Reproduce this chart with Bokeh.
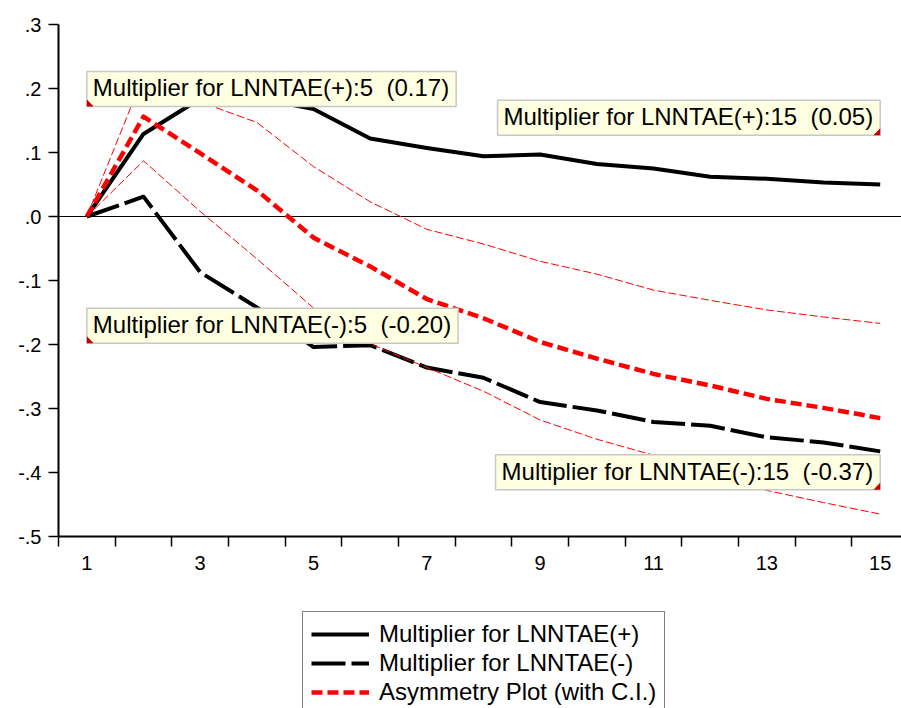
from bokeh.plotting import figure
from bokeh.layouts import column
from bokeh.models import (FixedTicker, CustomJSTickFormatter, Span, Label, Legend,
                          LegendItem, Range1d)
from bokeh.embed import file_html
from bokeh.resources import INLINE

# ---------------- data ----------------
periods = list(range(1, 16))
mult_pos = [0.0, 0.129, 0.184, 0.185, 0.168, 0.122, 0.107, 0.094, 0.097, 0.082,
            0.075, 0.062, 0.059, 0.053, 0.050]
mult_neg = [0.0, 0.031, -0.087, -0.142, -0.204, -0.201, -0.236, -0.252, -0.290, -0.303,
            -0.321, -0.327, -0.345, -0.353, -0.367]
asymmetry = [0.0, 0.156, 0.099, 0.041, -0.033, -0.078, -0.129, -0.159, -0.196, -0.222,
             -0.246, -0.264, -0.285, -0.299, -0.315]
ci_upper = [0.0, 0.220, 0.179, 0.147, 0.078, 0.023, -0.020, -0.043, -0.070, -0.090,
            -0.115, -0.131, -0.146, -0.157, -0.167]
ci_lower = [0.0, 0.087, 0.008, -0.066, -0.143, -0.199, -0.236, -0.273, -0.318, -0.348,
            -0.373, -0.398, -0.428, -0.447, -0.465]

x_label_ticks = [1, 3, 5, 7, 9, 11, 13, 15]
y_ticks = [-0.5, -0.4, -0.3, -0.2, -0.1, 0.0, 0.1, 0.2, 0.3]

legend_labels = ["Multiplier for LNNTAE(+)", "Multiplier for LNNTAE(-)",
                 "Asymmetry Plot (with C.I.)"]
annotation_texts = ["Multiplier for LNNTAE(+):5\u00a0 (0.17)",
                    "Multiplier for LNNTAE(+):15\u00a0 (0.05)",
                    "Multiplier for LNNTAE(-):5\u00a0 (-0.20)",
                    "Multiplier for LNNTAE(-):15\u00a0 (-0.37)"]

FONT = "Liberation Sans"

# line styles (shared by the chart and the legend)
style_pos = dict(line_color="black", line_width=4, line_join="round")
style_neg = dict(line_color="black", line_width=4, line_dash="34 6", line_join="round")
style_ci = dict(line_color="#FF0000", line_width=1, line_dash="8 3")
style_asym = dict(line_color="#FF0000", line_width=4.5, line_dash="11 5",
                  line_join="round")

# ---------------- main figure ----------------
p = figure(width=901, height=596,
           x_range=Range1d(0.5, 15.376), y_range=Range1d(-0.5, 0.3),
           output_backend="svg", toolbar_location=None,
           min_border_left=58, min_border_right=0,
           min_border_top=24, min_border_bottom=60)
p.outline_line_color = None
p.xgrid.visible = False
p.ygrid.visible = False
p.background_fill_color = "white"
p.border_fill_color = "white"

zero = Span(location=0, dimension="width", line_color="black", line_width=1,
            level="underlay")
p.add_layout(zero)

r_pos = p.line(periods, mult_pos, **style_pos)
r_neg = p.line(periods, mult_neg, **style_neg)
p.line(periods, ci_upper, **style_ci)
p.line(periods, ci_lower, **style_ci)
r_asym = p.line(periods, asymmetry, **style_asym)

# ---------------- axes ----------------
boundaries = [t - 0.5 for t in periods] + [periods[-1] + 0.5]
p.xaxis.ticker = FixedTicker(ticks=x_label_ticks, minor_ticks=boundaries)
p.xaxis.major_tick_line_color = None
p.xaxis.major_tick_out = 10
p.xaxis.major_tick_in = 0
p.xaxis.minor_tick_out = 10
p.xaxis.minor_tick_in = 0
p.xaxis.minor_tick_line_color = "black"
p.xaxis.minor_tick_line_width = 1.5
p.xaxis.axis_line_width = 2
p.xaxis.major_label_standoff = 9
p.xaxis.major_label_text_font = FONT
p.xaxis.major_label_text_font_size = "20px"
p.xaxis.major_label_text_color = "black"

p.yaxis.ticker = FixedTicker(ticks=y_ticks)
p.yaxis.formatter = CustomJSTickFormatter(
    code="return tick.toFixed(1).replace('0.', '.');")
p.yaxis.minor_tick_line_color = None
p.yaxis.major_tick_out = 10
p.yaxis.major_tick_in = 0
p.yaxis.major_tick_line_width = 1.5
p.yaxis.axis_line_width = 2
p.yaxis.major_label_standoff = 7
p.yaxis.major_label_text_font = FONT
p.yaxis.major_label_text_font_size = "20px"
p.yaxis.major_label_text_color = "black"

# ---------------- annotation boxes ----------------
ann_specs = [
    (annotation_texts[0], 1, 0.172, "bottom_left"),
    (annotation_texts[1], 15, 0.127, "bottom_right"),
    (annotation_texts[2], 1, -0.198, "bottom_left"),
    (annotation_texts[3], 15, -0.427, "bottom_right"),
]
tri_xs, tri_ys = [], []
dx, dy = 0.12, 0.011
for text, ax, ay, anc in ann_specs:
    p.add_layout(Label(x=ax, y=ay, text=text, anchor=anc,
                       text_font=FONT, text_font_size="24px", text_color="black",
                       background_fill_color="#FFFFE1", background_fill_alpha=1,
                       border_line_color="#C8C8C8", border_line_width=1.5,
                       padding=dict(left=6, right=7, top=3, bottom=5)))
    if anc == "bottom_left":
        tri_xs.append([ax, ax + dx, ax])
    else:
        tri_xs.append([ax, ax - dx, ax])
    tri_ys.append([ay, ay, ay + dy])
p.patches(tri_xs, tri_ys, fill_color="#C00000", line_color=None, level="overlay")

# ---------------- legend strip below the chart ----------------
# same series, viewed through a range where none of it is visible, so only
# the legend of this strip shows
q = figure(width=901, height=112, x_range=Range1d(100, 101), y_range=Range1d(100, 101),
           output_backend="svg", toolbar_location=None,
           x_axis_location=None, y_axis_location=None,
           min_border=0, min_border_left=0, min_border_right=0,
           min_border_top=0, min_border_bottom=0)
q.xgrid.visible = False
q.ygrid.visible = False
q.outline_line_color = None
q.background_fill_color = "white"
q.border_fill_color = "white"
lg_pos = q.line(periods, mult_pos, **style_pos)
lg_neg = q.line(periods, mult_neg, **style_neg)
lg_asym = q.line(periods, asymmetry, **style_asym)

legend = Legend(items=[LegendItem(label=legend_labels[0], renderers=[lg_pos]),
                       LegendItem(label=legend_labels[1], renderers=[lg_neg]),
                       LegendItem(label=legend_labels[2], renderers=[lg_asym])],
                location=(244, -7), orientation="vertical",
                border_line_color="black", border_line_width=1,
                background_fill_color="white", background_fill_alpha=1,
                padding=8, spacing=1, label_height=28, glyph_height=28,
                glyph_width=58, label_standoff=10, margin=0,
                label_text_font=FONT, label_text_font_size="24px",
                label_text_color="black")
q.add_layout(legend)

open("out.html", "w").write(file_html(column(p, q, spacing=0), INLINE))
